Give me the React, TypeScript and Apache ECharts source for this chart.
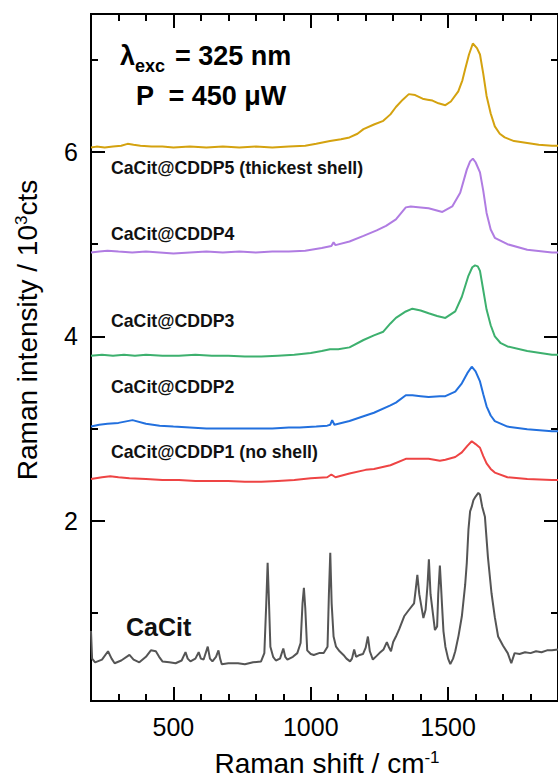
import React, { useEffect, useRef } from "react";
import * as echarts from "echarts";

// ---- data (Raman shift cm^-1, intensity 10^3 cts) ----
const xRange = [200, 1900];
const yRange = [0.04, 7.5];
const xMajorTicks = [500, 1000, 1500];
const xMinorTicks = [300, 400, 600, 700, 800, 900, 1100, 1200, 1300, 1400, 1600, 1700, 1800, 1900];
const yMajorTicks = [2, 4, 6];
const yMinorTicks = [1, 3, 5, 7];

const seriesNames = [
  "CaCit@CDDP5 (thickest shell)",
  "CaCit@CDDP4",
  "CaCit@CDDP3",
  "CaCit@CDDP2",
  "CaCit@CDDP1 (no shell)",
  "CaCit",
];
const seriesColors = ["#D4A20F", "#B07CE2", "#3DB06E", "#2270DE", "#EE4444", "#555555"];

const cddp5: number[][] = [
  [200, 6.05], [220, 6.06], [250, 6.05], [280, 6.06], [310, 6.07], [333, 6.09], [355, 6.08], [380, 6.07],
  [420, 6.06], [460, 6.06], [500, 6.05], [560, 6.06], [620, 6.05], [680, 6.06], [740, 6.05], [800, 6.06],
  [860, 6.05], [920, 6.06], [980, 6.07], [1020, 6.09], [1070, 6.12], [1110, 6.14], [1141, 6.16], [1170, 6.2],
  [1192, 6.25], [1230, 6.3], [1264, 6.34], [1290, 6.41], [1310, 6.49], [1335, 6.57], [1357, 6.63], [1380, 6.62],
  [1407, 6.58], [1425, 6.57], [1443, 6.56], [1465, 6.53], [1490, 6.51], [1510, 6.55], [1537, 6.66], [1552, 6.78],
  [1562, 6.9], [1576, 7.06], [1590, 7.18], [1605, 7.13], [1616, 7.06], [1628, 6.85], [1640, 6.61], [1655, 6.42],
  [1670, 6.28], [1688, 6.2], [1706, 6.16], [1740, 6.12], [1788, 6.1], [1830, 6.08], [1878, 6.07], [1900, 6.07],
];
const cddp4: number[][] = [
  [200, 4.91], [230, 4.92], [260, 4.93], [300, 4.92], [350, 4.91], [400, 4.92], [450, 4.91], [500, 4.9],
  [560, 4.91], [620, 4.92], [680, 4.91], [740, 4.92], [800, 4.91], [860, 4.92], [920, 4.92], [980, 4.93],
  [1040, 4.96], [1075, 4.98], [1083, 5.02], [1090, 4.99], [1141, 5.03], [1192, 5.09], [1240, 5.15], [1274, 5.2],
  [1310, 5.27], [1346, 5.4], [1364, 5.41], [1400, 5.4], [1429, 5.39], [1479, 5.35], [1515, 5.41], [1544, 5.56],
  [1568, 5.81], [1580, 5.9], [1590, 5.93], [1600, 5.89], [1616, 5.78], [1628, 5.58], [1640, 5.34], [1655, 5.16],
  [1670, 5.07], [1716, 5.0], [1788, 4.94], [1878, 4.91], [1900, 4.91],
];
const cddp3: number[][] = [
  [200, 3.79], [240, 3.8], [280, 3.79], [320, 3.8], [360, 3.79], [400, 3.8], [460, 3.79], [520, 3.79],
  [580, 3.8], [640, 3.79], [700, 3.79], [760, 3.78], [820, 3.78], [880, 3.79], [940, 3.8], [1000, 3.82],
  [1040, 3.84], [1070, 3.86], [1100, 3.86], [1141, 3.88], [1192, 3.96], [1230, 4.01], [1264, 4.05], [1290, 4.14],
  [1310, 4.2], [1346, 4.27], [1370, 4.3], [1400, 4.28], [1429, 4.25], [1460, 4.22], [1490, 4.2], [1526, 4.27],
  [1550, 4.43], [1573, 4.65], [1588, 4.75], [1598, 4.77], [1608, 4.76], [1616, 4.71], [1628, 4.5], [1640, 4.29],
  [1655, 4.12], [1670, 4.0], [1690, 3.93], [1716, 3.89], [1788, 3.84], [1878, 3.8], [1900, 3.8],
];
const cddp2: number[][] = [
  [200, 3.02], [230, 3.04], [260, 3.05], [300, 3.06], [351, 3.09], [400, 3.05], [450, 3.03], [500, 3.02],
  [560, 3.01], [620, 3.0], [680, 3.0], [740, 3.0], [800, 3.0], [860, 3.0], [920, 3.01], [960, 3.01],
  [1020, 3.02], [1060, 3.03], [1071, 3.04], [1078, 3.09], [1086, 3.04], [1141, 3.08], [1200, 3.14], [1230, 3.17],
  [1290, 3.25], [1310, 3.28], [1346, 3.36], [1370, 3.36], [1400, 3.35], [1429, 3.34], [1470, 3.35], [1490, 3.35],
  [1526, 3.4], [1550, 3.49], [1570, 3.6], [1586, 3.67], [1600, 3.62], [1616, 3.51], [1628, 3.37], [1640, 3.24],
  [1655, 3.14], [1670, 3.08], [1716, 3.02], [1788, 2.99], [1878, 2.97], [1900, 2.97],
];
const cddp1: number[][] = [
  [200, 2.45], [240, 2.47], [270, 2.48], [300, 2.47], [340, 2.46], [400, 2.45], [460, 2.44], [520, 2.44],
  [580, 2.43], [640, 2.43], [700, 2.43], [760, 2.42], [820, 2.42], [880, 2.43], [940, 2.44], [1000, 2.46],
  [1060, 2.47], [1075, 2.5], [1090, 2.47], [1141, 2.51], [1200, 2.55], [1230, 2.56], [1290, 2.6], [1346, 2.67],
  [1370, 2.67], [1400, 2.67], [1429, 2.67], [1470, 2.65], [1490, 2.66], [1526, 2.69], [1550, 2.74], [1570, 2.81],
  [1586, 2.86], [1600, 2.83], [1616, 2.79], [1628, 2.7], [1640, 2.62], [1655, 2.56], [1670, 2.52], [1716, 2.47],
  [1788, 2.45], [1878, 2.44], [1900, 2.44],
];
const cacit: number[][] = [
  [200, 0.8], [204, 0.5], [215, 0.46], [240, 0.49], [262, 0.58], [275, 0.5], [286, 0.45], [310, 0.48],
  [340, 0.54], [355, 0.49], [376, 0.46], [400, 0.52], [418, 0.59], [436, 0.58], [448, 0.52], [460, 0.47],
  [485, 0.46], [508, 0.45], [530, 0.48], [544, 0.57], [552, 0.5], [562, 0.47], [580, 0.5], [592, 0.57],
  [600, 0.5], [610, 0.49], [625, 0.63], [633, 0.5], [642, 0.47], [655, 0.52], [664, 0.59], [670, 0.5],
  [676, 0.44], [700, 0.45], [735, 0.45], [760, 0.44], [790, 0.46], [819, 0.47], [831, 0.56], [838, 1.1],
  [843, 1.54], [847, 1.2], [853, 0.63], [863, 0.52], [873, 0.48], [888, 0.5], [900, 0.61], [907, 0.52],
  [915, 0.49], [935, 0.52], [951, 0.56], [963, 0.67], [970, 1.1], [975, 1.27], [980, 1.05], [987, 0.59],
  [1000, 0.55], [1011, 0.54], [1030, 0.56], [1047, 0.56], [1061, 0.63], [1066, 1.2], [1071, 1.65], [1076, 1.1],
  [1083, 0.74], [1092, 0.63], [1105, 0.58], [1119, 0.54], [1130, 0.5], [1143, 0.47], [1150, 0.5], [1158, 0.6],
  [1165, 0.52], [1178, 0.54], [1190, 0.55], [1200, 0.62], [1208, 0.74], [1215, 0.58], [1226, 0.49], [1240, 0.53],
  [1250, 0.56], [1265, 0.6], [1277, 0.68], [1285, 0.62], [1292, 0.58], [1300, 0.68], [1310, 0.74], [1322, 0.82],
  [1340, 0.96], [1355, 1.02], [1376, 1.1], [1382, 1.25], [1388, 1.41], [1395, 1.2], [1410, 0.94], [1418, 1.03],
  [1425, 1.3], [1430, 1.58], [1436, 1.2], [1452, 0.81], [1460, 0.85], [1464, 1.2], [1470, 1.51], [1474, 1.3],
  [1478, 1.07], [1483, 0.8], [1490, 0.63], [1500, 0.5], [1508, 0.44], [1518, 0.5], [1526, 0.58], [1538, 0.75],
  [1550, 0.96], [1562, 1.3], [1568, 1.54], [1574, 1.9], [1580, 2.1], [1586, 2.15], [1592, 2.22], [1600, 2.26],
  [1610, 2.3], [1616, 2.28], [1624, 2.15], [1634, 2.04], [1645, 1.6], [1658, 1.21], [1670, 0.95], [1682, 0.74],
  [1700, 0.64], [1717, 0.56], [1730, 0.45], [1742, 0.56], [1760, 0.55], [1780, 0.57], [1800, 0.56], [1820, 0.58],
  [1840, 0.57], [1860, 0.59], [1878, 0.59], [1900, 0.6],
];
const seriesData = [cddp5, cddp4, cddp3, cddp2, cddp1, cacit];

const FONT = "'Liberation Sans', Arial, sans-serif";

export default function App() {
  const ref = useRef<HTMLDivElement>(null);
  useEffect(() => {
    if (!ref.current) return;
    const chart = echarts.init(ref.current, undefined, { renderer: "svg" });

    const tickLine = { lineStyle: { color: "#000", width: 2 } };
    const plain = (v: number) => String(v);
    const xAxisBase = (pos: string, major: boolean, show: boolean) => ({
      type: "value",
      position: pos,
      min: xRange[0],
      max: xRange[1],
      splitLine: { show: false },
      axisLine: { show: true, onZero: false, lineStyle: { color: "#000", width: 2 } },
      axisTick: {
        show: true,
        inside: true,
        length: major ? 14 : 7,
        customValues: major ? xMajorTicks : xMinorTicks,
        ...tickLine,
      },
      axisLabel: {
        show,
        customValues: xMajorTicks,
        formatter: plain,
        margin: 13,
        color: "#000",
        fontSize: 25,
        fontFamily: FONT,
      },
    });
    const yAxisBase = (pos: string, major: boolean, show: boolean) => ({
      type: "value",
      position: pos,
      min: yRange[0],
      max: yRange[1],
      splitLine: { show: false },
      axisLine: { show: true, onZero: false, lineStyle: { color: "#000", width: 2 } },
      axisTick: {
        show: true,
        inside: true,
        length: major ? 14 : 7,
        customValues: major ? yMajorTicks : yMinorTicks,
        ...tickLine,
      },
      axisLabel: {
        show,
        customValues: yMajorTicks,
        formatter: plain,
        margin: 13,
        color: "#000",
        fontSize: 25,
        fontFamily: FONT,
      },
    });

    const labelY = [168, 234, 321, 387, 452];
    const graphic: any[] = labelY.map((y, i) => ({
      type: "text",
      x: 111,
      y,
      style: {
        text: seriesNames[i],
        font: `bold 17.7px ${FONT}`,
        fill: "#111",
        verticalAlign: "middle",
        align: "left",
      },
    }));
    graphic.push({
      type: "text",
      x: 126,
      y: 627,
      style: { text: seriesNames[5], font: `bold 25px ${FONT}`, fill: "#111", verticalAlign: "middle" },
    });
    // excitation annotation
    graphic.push({
      type: "text",
      x: 120,
      y: 56,
      style: { text: "λ", font: `bold 27px ${FONT}`, fill: "#000", verticalAlign: "middle" },
    });
    graphic.push({
      type: "text",
      x: 135,
      y: 66,
      style: { text: "exc", font: `bold 18px ${FONT}`, fill: "#000", verticalAlign: "middle" },
    });
    graphic.push({
      type: "text",
      x: 175,
      y: 56,
      style: { text: "= 325 nm", font: `bold 27px ${FONT}`, fill: "#000", verticalAlign: "middle" },
    });
    graphic.push({
      type: "text",
      x: 136,
      y: 96,
      style: { text: "P  = 450 μW", font: `bold 27px ${FONT}`, fill: "#000", verticalAlign: "middle" },
    });
    // axis names
    graphic.push({
      type: "text",
      x: 327,
      y: 763,
      style: {
        text: "{a|Raman shift / cm}{b|-1}",
        align: "center",
        verticalAlign: "middle",
        rich: {
          a: { fontSize: 28, fontFamily: FONT, fill: "#000", verticalAlign: "bottom" },
          b: { fontSize: 17, fontFamily: FONT, fill: "#000", verticalAlign: "top" },
        },
      },
    });
    graphic.push({
      type: "text",
      x: 27,
      y: 330,
      rotation: Math.PI / 2,
      style: {
        text: "{a|Raman intensity / 10}{b|3}{a|cts}",
        align: "center",
        verticalAlign: "middle",
        rich: {
          a: { fontSize: 28, fontFamily: FONT, fill: "#000", verticalAlign: "bottom" },
          b: { fontSize: 17, fontFamily: FONT, fill: "#000", verticalAlign: "top" },
        },
      },
    });

    chart.setOption({
      animation: false,
      backgroundColor: "#fff",
      grid: { left: 91, right: -6, top: 14, bottom: 81, containLabel: false },
      xAxis: [
        xAxisBase("bottom", true, true),
        xAxisBase("bottom", false, false),
        xAxisBase("top", true, false),
        xAxisBase("top", false, false),
      ],
      yAxis: [
        yAxisBase("left", true, true),
        yAxisBase("left", false, false),
        yAxisBase("right", true, false),
        yAxisBase("right", false, false),
      ],
      series: seriesData.map((d, i) => ({
        type: "line",
        name: seriesNames[i],
        data: d,
        xAxisIndex: 0,
        yAxisIndex: 0,
        showSymbol: false,
        symbol: "none",
        lineStyle: { color: seriesColors[i], width: 2 },
        clip: true,
        z: 2,
      })),
      graphic,
    });
    return () => chart.dispose();
  }, []);
  return (
    <div
      ref={ref}
      style={{ position: "absolute", left: 0, top: 0, width: 558, height: 782, background: "#fff" }}
    />
  );
}
